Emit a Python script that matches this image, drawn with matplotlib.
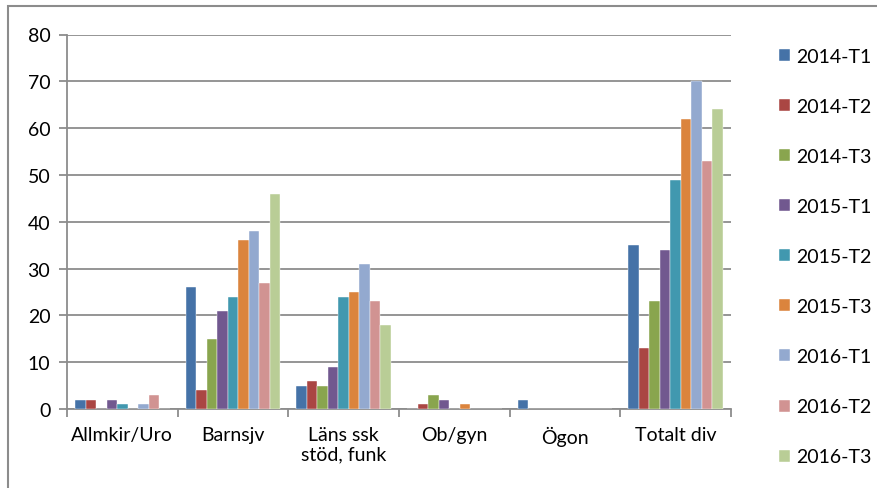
import numpy as np
import matplotlib.pyplot as plt
from matplotlib.patches import Rectangle

plt.rcParams['font.family'] = ['Lato', 'DejaVu Sans']

categories = ['Allmkir/Uro', 'Barnsjv', 'Läns ssk\nstöd, funk', 'Ob/gyn', 'Ögon', 'Totalt div']
series = ['2014-T1', '2014-T2', '2014-T3', '2015-T1', '2015-T2', '2015-T3',
          '2016-T1', '2016-T2', '2016-T3']
values = [
    [2, 26, 5, 0, 2, 35],
    [2, 4, 6, 1, 0, 13],
    [0, 15, 5, 3, 0, 23],
    [2, 21, 9, 2, 0, 34],
    [1, 24, 24, 0, 0, 49],
    [0, 36, 25, 1, 0, 62],
    [1, 38, 31, 0, 0, 70],
    [3, 27, 23, 0, 0, 53],
    [0, 46, 18, 0, 0, 64],
]
colors = ['#4572A7', '#AA4643', '#89A54E', '#71588F', '#4198AF',
          '#DB843D', '#93A9CF', '#D19392', '#B9CD96']

W, H = 877, 489
fig = plt.figure(figsize=(W / 100, H / 100), dpi=100)
ax = fig.add_axes([67 / W, 1 - 410 / H, (731 - 67) / W, (410 - 35.5) / H])

n = len(series)
bw = 0.095
x = np.arange(len(categories))
for i, (name, vals, c) in enumerate(zip(series, values, colors)):
    ax.bar(x + (i - (n - 1) / 2) * bw, vals, bw, color=c, label=name,
           edgecolor='white', linewidth=0.3, zorder=3)

ax.set_xlim(-0.5, len(categories) - 0.5)
ax.set_ylim(0, 80)
ax.set_yticks(range(0, 81, 10))
ax.yaxis.grid(True, color='#8c8c8c', linewidth=1.3, zorder=0)
ax.set_xticks(x)
ax.set_xticklabels(categories, fontsize=14, linespacing=1.2)
ax.set_xticks(np.arange(len(categories) + 1) - 0.5, minor=True)
ax.tick_params(axis='x', which='major', length=0, pad=12)
ax.tick_params(axis='x', which='minor', length=6, width=1.3, color='#8c8c8c')
ax.tick_params(axis='y', length=6, width=1.3, color='#8c8c8c', labelsize=14, pad=6)
for side in ['top', 'right']:
    ax.spines[side].set_visible(False)
for side in ['left', 'bottom']:
    ax.spines[side].set_color('#8c8c8c')
    ax.spines[side].set_linewidth(1.3)

leg = fig.legend(loc='upper left', bbox_to_anchor=(779 / W, 1 - 49 / H),
                 frameon=False, fontsize=14, handlelength=0.57, handleheight=0.57,
                 handletextpad=0.3, labelspacing=1.7, borderpad=0, borderaxespad=0)

# outer chart frame
fig.patches.append(Rectangle((8 / W, -0.1), 1.2, 1.1 - 6.5 / H, transform=fig.transFigure,
                             fill=False, edgecolor='#8c8c8c', linewidth=1.5))

fig.savefig('out.png', dpi=100)
